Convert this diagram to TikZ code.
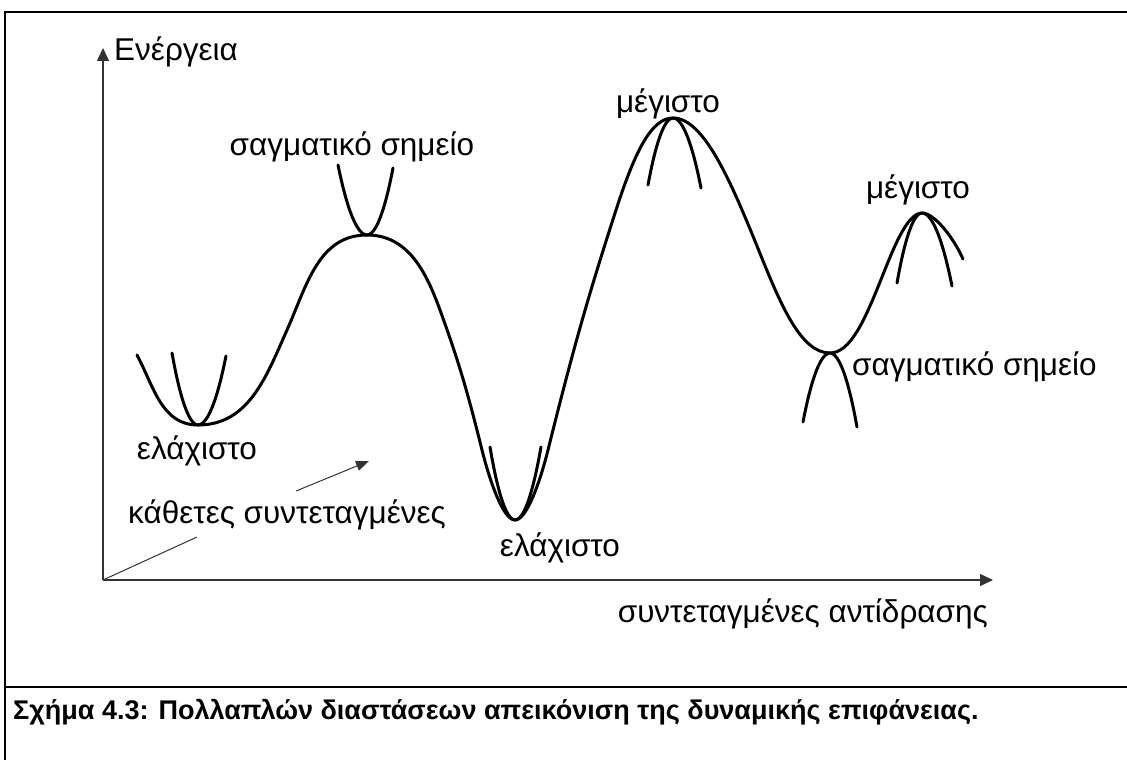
\documentclass[tikz,border=0pt]{standalone}
\usepackage{fontspec}
\setmainfont{Liberation Sans}
\usetikzlibrary{arrows.meta}
\tikzset{
  lbl/.style={font=\fontsize{31.5}{38}\selectfont,inner sep=0pt},
  axisline/.style={line width=1.3pt,draw=black!80,-{Triangle[length=13pt,width=12pt]}},
  pes/.style={line width=3pt,line cap=round,line join=round},
  boxline/.style={line width=2pt}
}
\begin{document}
\begin{tikzpicture}[x=1pt,y=-1pt]
    \useasboundingbox(0,0)rectangle(1127,760);
    \coordinate(TL)at(5,12);
    \coordinate(BL)at(5,760);
    \coordinate(TR)at(1127,12);
    \coordinate(ML)at(5,687);
    \coordinate(MR)at(1127,687);
    \draw[boxline](BL)--(TL)--(TR);
    \draw[boxline](ML)--(MR);
    \coordinate(O)at(103,580);
    \coordinate(E)at(103,48);
    \coordinate(R)at(993,580);
    \coordinate(K1)at(197,537);
    \coordinate(K2)at(296,491);
    \coordinate(K)at(369,461);
    \draw[axisline](O)--(E);
    \draw[axisline](O)--(R);
    \draw[line width=1pt,draw=black!80](O)--(K1);
    \draw[line width=1pt,draw=black!80,-{Triangle[length=13pt,width=10pt]}](K2)--(K);
    \coordinate(min1)at(198,425);
    \coordinate(sad1)at(367,235);
    \coordinate(min2)at(515,520);
    \coordinate(max1)at(673,118);
    \coordinate(sad2)at(830,353);
    \coordinate(max2)at(922,213);
    \draw[pes](137,355)to[out=-62,in=180](min1)
        to[out=0,in=-114](287,330)to[out=66,in=180](sad1)
        to[out=0,in=110](440,310)to[out=-70,in=104](482,450)
        to[out=-76,in=180,in looseness=0.4](min2)
        to[out=0,in=-104,out looseness=0.4](548,450)
        to[out=76,in=-108](617,207)
        to[out=72,in=180,out looseness=1.5,in looseness=0.5](max1)
        to[out=0,in=112,out looseness=0.5,in looseness=1.2](759,251)
        to[out=-68,in=180,out looseness=1.2,in looseness=0.6](sad2)
        to[out=0,in=-112,out looseness=0.6,in looseness=1.2](880,282)
        to[out=68,in=180,in looseness=0.5](max2)
        to[out=0,in=114,out looseness=0.5](963,259);
    \draw[pes](172,353)parabola bend(min1)(226,356);
    \draw[pes](338,165)parabola bend(sad1)(393,168);
    \draw[pes](490,447)parabola bend(min2)(541,447);
    \draw[pes](648,185)parabola bend(max1)(701,188);
    \draw[pes](803,422)parabola bend(sad2)(857,427);
    \draw[pes](897,283)parabola bend(max2)(952,286);
    \node[lbl,anchor=base west](en)at(114,60){Ενέργεια};
    \node[lbl,anchor=base](s1)at(352,155){σαγματικό σημείο};
    \node[lbl,anchor=base](m1)at(668,112){μέγιστο};
    \node[lbl,anchor=base](m2)at(918,198){μέγιστο};
    \node[lbl,anchor=base west](s2)at(852,375){σαγματικό σημείο};
    \node[lbl,anchor=base](e1)at(197,459){ελάχιστο};
    \node[lbl,anchor=base](e2)at(560,556){ελάχιστο};
    \node[lbl,anchor=base west](kc)at(128,523){κάθετες συντεταγμένες};
    \node[lbl,anchor=base east](rc)at(988,622){συντεταγμένες αντίδρασης};
    \node[anchor=base west,inner sep=0pt,font=\fontsize{27}{32}\bfseries\selectfont](cap)at(13,719){Σχήμα 4.3: Πολλαπλών διαστάσεων απεικόνιση της δυναμικής επιφάνειας.};
\end{tikzpicture}
\end{document}
